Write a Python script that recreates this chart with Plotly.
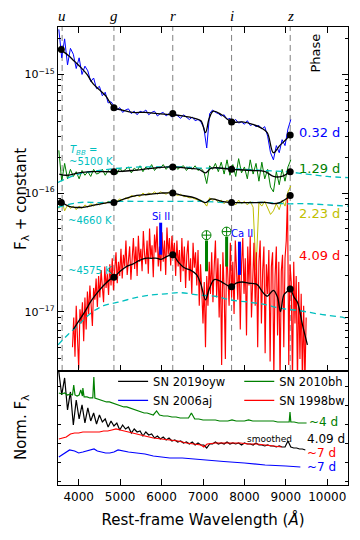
import numpy as np
import plotly.graph_objects as go
from plotly.subplots import make_subplots

# ---------------- top panel: SN 2019oyw, log10 F_lambda ----------------
wave_early = np.arange(3520, 9121, 70)     # grid of the 0.32 / 1.29 / 2.23 d spectra
wave_late = np.arange(3850, 9491, 30)      # grid of the 4.09 d spectrum

raw_032 = [-14.62, -14.86, -14.70, -14.92, -14.78, -14.83, -14.95, -14.86, -15.00, -14.93,
           -14.97, -15.06, -15.03, -15.12, -15.10, -15.18, -15.15, -15.24, -15.23, -15.27,
           -15.30, -15.28, -15.32, -15.30, -15.29, -15.33, -15.31, -15.34, -15.31, -15.32,
           -15.30, -15.34, -15.32, -15.31, -15.35, -15.33, -15.32, -15.35, -15.33, -15.36,
           -15.33, -15.35, -15.37, -15.34, -15.36, -15.38, -15.36, -15.39, -15.38, -15.40,
           -15.45, -15.62, -15.33, -15.30, -15.32, -15.33, -15.35, -15.34, -15.38, -15.37,
           -15.40, -15.38, -15.41, -15.40, -15.42, -15.39, -15.43, -15.42, -15.44, -15.43,
           -15.46, -15.44, -15.52, -15.66, -15.72, -15.60, -15.66, -15.55, -15.60, -15.46,
           -15.38]
raw_129 = [-15.64, -15.90, -15.75, -15.88, -15.80, -15.86, -15.82, -15.88, -15.81, -15.85,
           -15.82, -15.86, -15.80, -15.84, -15.83, -15.80, -15.85, -15.81, -15.83, -15.80,
           -15.84, -15.79, -15.82, -15.80, -15.78, -15.83, -15.79, -15.81, -15.77, -15.82,
           -15.78, -15.80, -15.76, -15.81, -15.78, -15.79, -15.76, -15.80, -15.77, -15.79,
           -15.76, -15.80, -15.78, -15.77, -15.81, -15.78, -15.80, -15.77, -15.81, -15.79,
           -15.82, -15.92, -15.77, -15.80, -15.75, -15.82, -15.74, -15.84, -15.72, -15.85,
           -15.76, -15.86, -15.71, -15.83, -15.78, -15.88, -15.72, -15.84, -15.75, -15.90,
           -15.74, -15.88, -15.80, -15.95, -15.99, -15.82, -15.93, -15.80, -15.90, -15.78,
           -15.72]
raw_223 = [-16.13, -16.06, -16.15, -16.10, -16.13, -16.11, -16.14, -16.11, -16.13, -16.10,
           -16.12, -16.09, -16.11, -16.09, -16.10, -16.08, -16.09, -16.07, -16.08, -16.07,
           -16.07, -16.05, -16.06, -16.04, -16.05, -16.02, -16.03, -16.02, -16.03, -16.00,
           -16.02, -16.00, -16.01, -15.99, -16.01, -15.99, -16.00, -16.01, -15.99, -16.00,
           -16.01, -16.02, -16.01, -16.03, -16.03, -16.04, -16.04, -16.05, -16.06, -16.06,
           -16.08, -16.11, -16.04, -16.06, -16.05, -16.08, -16.06, -16.09, -16.06, -16.09,
           -16.07, -16.10, -16.06, -16.09, -16.07, -16.10, -16.07, -16.12, -16.65, -16.08,
           -16.11, -16.07, -16.13, -16.18, -16.15, -16.09, -16.14, -16.06, -16.11, -15.99,
           -15.94]
raw_409 = [-17.30, -17.05, -17.38, -16.95, -17.22, -17.48, -16.98, -17.10, -16.92, -17.25,
           -16.88, -17.15, -16.83, -17.02, -16.78, -16.99, -17.12, -16.80, -16.90, -16.72,
           -16.96, -16.70, -16.88, -16.65, -16.83, -16.92, -16.62, -16.80, -16.68, -16.86,
           -16.60, -16.78, -16.55, -16.82, -16.64, -16.50, -16.76, -16.58, -16.70, -16.47,
           -16.72, -16.52, -16.62, -16.40, -16.69, -16.55, -16.45, -16.73, -16.50, -16.38,
           -16.64, -16.45, -16.70, -16.36, -16.58, -16.47, -16.66, -16.32, -16.52, -16.60,
           -16.40, -16.68, -16.30, -16.55, -16.44, -16.71, -16.35, -16.50, -16.28, -16.62,
           -16.45, -16.66, -16.33, -16.58, -16.40, -16.69, -16.29, -16.52, -16.38, -16.61,
           -16.36, -16.55, -16.42, -16.70, -16.40, -16.62, -16.48, -16.75, -16.38, -16.66,
           -16.45, -16.80, -16.52, -16.40, -16.74, -16.55, -16.85, -16.42, -16.63, -16.50,
           -16.78, -16.48, -16.95, -16.60, -16.82, -17.10, -16.75, -17.30, -16.70, -16.95,
           -16.58, -16.85, -16.50, -16.92, -16.62, -16.40, -16.88, -16.55, -17.05, -16.60,
           -17.45, -16.50, -16.82, -17.40, -16.45, -16.70, -16.95, -16.42, -16.88, -16.58,
           -17.02, -16.40, -16.72, -16.90, -16.48, -17.15, -16.60, -16.38, -16.85, -16.55,
           -17.20, -16.45, -16.78, -16.36, -17.05, -16.62, -16.42, -16.95, -16.50, -17.30,
           -16.58, -16.40, -17.10, -16.66, -16.45, -17.35, -16.60, -16.85, -16.48, -17.42,
           -16.62, -16.50, -17.55, -16.70, -16.45, -17.20, -16.58, -17.60, -16.66, -16.52,
           -17.30, -16.55, -16.40, -16.02, -17.45, -16.60, -16.75, -17.60, -16.58, -17.10,
           -16.70, -17.60, -16.75, -17.40, -16.85, -17.60, -16.95, -17.60, -17.05]

# smoothed versions (black)
sm_wave_032 = [3530, 3600, 3750, 3900, 4050, 4200, 4350, 4500, 4650, 4850, 5050, 5300, 5600, 5900,
               6270, 6500, 6800, 6950, 7060, 7150, 7250, 7450, 7690, 7950, 8200, 8400, 8550, 8700,
               8850, 9000, 9105]
sm_032 = [-14.78, -14.80, -14.84, -14.89, -14.94, -15.00, -15.08, -15.13, -15.18, -15.28, -15.30,
          -15.32, -15.32, -15.33, -15.34, -15.35, -15.37, -15.39, -15.49, -15.37, -15.31, -15.34,
          -15.40, -15.40, -15.42, -15.45, -15.49, -15.66, -15.60, -15.55, -15.51]
sm_wave_129 = [3530, 3700, 4000, 4300, 4850, 5300, 5800, 6270, 6600, 6900, 7060, 7200, 7690, 8200,
               8500, 8700, 8900, 9105]
sm_129 = [-15.84, -15.85, -15.83, -15.82, -15.82, -15.81, -15.79, -15.78, -15.79, -15.80, -15.83,
          -15.79, -15.80, -15.81, -15.82, -15.86, -15.86, -15.82]
sm_wave_223 = [3530, 3600, 3750, 3900, 4100, 4400, 4700, 4850, 5100, 5400, 5700, 6000, 6270, 6500,
               6800, 7060, 7200, 7450, 7690, 8000, 8300, 8550, 8700, 8850, 9000, 9105]
sm_223 = [-16.06, -16.08, -16.11, -16.12, -16.12, -16.10, -16.08, -16.08, -16.05, -16.02, -16.01,
          -16.00, -16.00, -16.02, -16.04, -16.08, -16.05, -16.07, -16.08, -16.08, -16.08, -16.08,
          -16.09, -16.08, -16.05, -16.02]
sm_wave_409 = [3870, 4000, 4150, 4300, 4450, 4600, 4750, 4850, 5000, 5150, 5300, 5450, 5600, 5750,
               5900, 5980, 6100, 6270, 6400, 6550, 6700, 6850, 6950, 7060, 7150, 7270, 7400, 7500,
               7600, 7690, 7800, 7950, 8100, 8300, 8450, 8550, 8700, 8800, 8870, 8950, 9030, 9105,
               9200, 9280, 9400, 9520]
sm_409 = [-17.15, -17.08, -17.00, -16.91, -16.84, -16.78, -16.73, -16.71, -16.66, -16.62, -16.60,
          -16.57, -16.55, -16.55, -16.55, -16.56, -16.54, -16.52, -16.58, -16.63, -16.65, -16.69,
          -16.77, -16.90, -16.81, -16.73, -16.74, -16.76, -16.78, -16.79, -16.76, -16.75, -16.76,
          -16.77, -16.84, -16.87, -16.82, -16.88, -17.00, -16.86, -16.83, -16.81, -16.88, -16.92,
          -17.11, -17.28]

# synthetic photometry points
phot_wave_032 = [3580, 4850, 6270, 7690, 9105]
phot_032 = [-14.79, -15.28, -15.33, -15.40, -15.51]
phot_wave_129 = [4850, 6270, 7690, 9105]
phot_129 = [-15.82, -15.78, -15.80, -15.82]
phot_wave_223 = [3580, 4850, 6270, 7690, 9105]
phot_223 = [-16.08, -16.08, -16.00, -16.08, -16.02]
phot_wave_409 = [4850, 6270, 7690, 9105]
phot_409 = [-16.71, -16.52, -16.79, -16.81]

# blackbody fits
bb_wave_5100 = [3500, 4000, 4500, 5000, 5500, 6000, 6500, 7000, 7500, 8000, 8500, 9000, 9500, 10000, 10500]
bb_5100 = [-15.91, -15.84, -15.81, -15.79, -15.78, -15.78, -15.78, -15.79, -15.79, -15.80, -15.81,
           -15.82, -15.84, -15.86, -15.87]
bb_wave_4660 = [3500, 4000, 4500, 5000, 5500, 6000, 6500, 7000, 7500, 8000, 8500, 9000, 9500, 10000, 10500]
bb_4660 = [-16.12, -16.08, -16.08, -16.07, -16.07, -16.07, -16.07, -16.07, -16.08, -16.08, -16.08,
           -16.09, -16.09, -16.10, -16.11]
bb_wave_4575 = [3500, 3750, 4000, 4300, 4600, 4950, 5400, 5750, 6100, 6450, 6900, 7300, 7650, 8100,
                8500, 8850, 9300, 9800, 10400, 10500]
bb_4575 = [-17.28, -17.19, -17.11, -17.01, -16.95, -16.92, -16.88, -16.86, -16.85, -16.84, -16.86,
           -16.87, -16.90, -16.92, -16.94, -16.97, -16.99, -17.02, -17.05, -17.06]

filters = ['u', 'g', 'r', 'i', 'z']
filter_wave = [3600, 4850, 6270, 7690, 9105]

# line identifications: wavelength, top / bottom of the marker bar (log10 F)
line_names = ['Si II', 'tell', 'tell', 'Ca II']
line_wave = [5978, 7084, 7570, 7880]
line_top = [-16.25, -16.40, -16.37, -16.41]
line_bot = [-16.52, -16.66, -16.62, -16.69]

# ---------------- bottom panel: comparison, normalised flux + offset ----------------
wave_cmp_oyw = np.arange(3520, 9471, 70)
cmp_oyw = [1.13, 0.90, 1.07, 0.75, 0.93, 0.60, 0.85, 0.66, 0.80, 0.62,
           0.77, 0.64, 0.72, 0.61, 0.70, 0.63, 0.66, 0.58, 0.64, 0.59,
           0.62, 0.55, 0.60, 0.56, 0.58, 0.52, 0.56, 0.53, 0.54, 0.49,
           0.53, 0.50, 0.51, 0.47, 0.49, 0.46, 0.48, 0.45, 0.47, 0.44,
           0.45, 0.43, 0.44, 0.42, 0.43, 0.41, 0.43, 0.40, 0.42, 0.40,
           0.40, 0.37, 0.41, 0.41, 0.43, 0.41, 0.42, 0.41, 0.43, 0.41,
           0.42, 0.41, 0.42, 0.40, 0.42, 0.41, 0.41, 0.40, 0.42, 0.40,
           0.40, 0.39, 0.40, 0.39, 0.39, 0.38, 0.39, 0.38, 0.38, 0.44,
           0.38, 0.37, 0.37, 0.36, 0.36, 0.35]
wave_cmp_10bh = [3520, 3590, 3660, 3730, 3800, 3850, 3880, 3910, 3960, 4010, 4050, 4090, 4100, 4130,
                 4200, 4270, 4340, 4365, 4390, 4460, 4530, 4600, 4670, 4740, 4810, 4880, 4950, 5020,
                 5090, 5160, 5230, 5300, 5370, 5440, 5510, 5580, 5650, 5720, 5800, 5880, 5950, 6050,
                 6150, 6250, 6350, 6450, 6550, 6650, 6720, 6800, 6900, 7000, 7100, 7200, 7300, 7400,
                 7500, 7600, 7700, 7800, 7900, 8000, 8100, 8200, 8300, 8400, 8500, 8600, 8700, 8800,
                 8900, 9000, 9080, 9100, 9120, 9200, 9300, 9400, 9500]
cmp_10bh = [0.92, 0.91, 0.92, 0.90, 0.91, 0.90, 1.00, 0.90, 0.89, 0.90, 0.95, 0.89, 0.97, 0.88,
            0.88, 0.87, 0.87, 1.08, 0.87, 0.86, 0.85, 0.84, 0.83, 0.83, 0.82, 0.81, 0.80, 0.79,
            0.78, 0.78, 0.77, 0.76, 0.75, 0.74, 0.73, 0.72, 0.72, 0.71, 0.70, 0.74, 0.70, 0.69,
            0.69, 0.68, 0.68, 0.67, 0.67, 0.67, 0.72, 0.66, 0.66, 0.65, 0.65, 0.65, 0.65, 0.64,
            0.64, 0.64, 0.65, 0.64, 0.64, 0.64, 0.65, 0.64, 0.64, 0.64, 0.64, 0.64, 0.64, 0.63,
            0.63, 0.63, 0.63, 0.73, 0.63, 0.63, 0.62, 0.62, 0.62]
wave_cmp_98bw = [3520, 3600, 3700, 3800, 3900, 4000, 4100, 4200, 4300, 4400, 4500, 4600, 4700, 4800,
                 4900, 5000, 5100, 5200, 5300, 5400, 5500, 5600, 5800, 6000, 6200, 6400, 6600, 6800,
                 6950, 7020, 7100, 7300, 7500, 7700, 7900, 8100, 8300, 8500, 8700, 8900]
cmp_98bw = [0.46, 0.47, 0.48, 0.51, 0.52, 0.52, 0.53, 0.53, 0.53, 0.53, 0.53, 0.54, 0.54, 0.55,
            0.56, 0.55, 0.54, 0.53, 0.52, 0.51, 0.50, 0.49, 0.47, 0.46, 0.45, 0.44, 0.42, 0.41,
            0.40, 0.38, 0.41, 0.42, 0.42, 0.42, 0.42, 0.41, 0.41, 0.40, 0.39, 0.38]
wave_cmp_06aj = [3520, 3600, 3700, 3780, 3900, 4000, 4100, 4200, 4300, 4370, 4450, 4550, 4650, 4750,
                 4850, 4950, 5050, 5200, 5400, 5600, 5800, 6000, 6200, 6500, 7000, 7500, 8000, 8500,
                 9000, 9350]
cmp_06aj = [0.28, 0.30, 0.33, 0.35, 0.34, 0.32, 0.33, 0.34, 0.35, 0.36, 0.34, 0.33, 0.32, 0.32,
            0.33, 0.35, 0.34, 0.33, 0.32, 0.31, 0.29, 0.28, 0.27, 0.27, 0.25, 0.235, 0.22, 0.20,
            0.19, 0.18]

BLUE, GREEN, YELLOW, RED, CYAN = '#0000ff', '#008000', '#bfbf00', '#ff0000', '#00bfbf'
FONT = 'DejaVu Sans'

fig = make_subplots(rows=2, cols=1, shared_xaxes=True, vertical_spacing=0,
                    row_heights=[0.751, 0.249])

def lg(a):
    return 10 ** np.asarray(a, dtype=float)

for w, f, c, lw in [(wave_early, raw_032, BLUE, 1), (wave_early, raw_129, GREEN, 1),
                    (wave_early, raw_223, YELLOW, 1), (wave_late, raw_409, RED, 1.15)]:
    fig.add_trace(go.Scatter(x=w, y=lg(f), mode='lines', line=dict(color=c, width=lw),
                             showlegend=False, hoverinfo='skip'), row=1, col=1)

for w, f in [(bb_wave_5100, bb_5100), (bb_wave_4660, bb_4660), (bb_wave_4575, bb_4575)]:
    fig.add_trace(go.Scatter(x=w, y=lg(f), mode='lines', line=dict(color=CYAN, width=1.3, dash='6px,4px',
                             shape='spline'), showlegend=False, hoverinfo='skip'), row=1, col=1)

for w, f in [(sm_wave_032, sm_032), (sm_wave_129, sm_129), (sm_wave_223, sm_223), (sm_wave_409, sm_409)]:
    fig.add_trace(go.Scatter(x=w, y=lg(f), mode='lines', line=dict(color='black', width=1.3, shape='spline'),
                             showlegend=False, hoverinfo='skip'), row=1, col=1)

for w, f in [(phot_wave_032, phot_032), (phot_wave_129, phot_129),
             (phot_wave_223, phot_223), (phot_wave_409, phot_409)]:
    fig.add_trace(go.Scatter(x=w, y=lg(f), mode='markers', marker=dict(color='black', size=7),
                             showlegend=False, hoverinfo='skip'), row=1, col=1)

# line id bars
for name, w, t, b in zip(line_names, line_wave, line_top, line_bot):
    col = GREEN if name == 'tell' else BLUE
    fig.add_trace(go.Scatter(x=[w, w], y=lg([t, b]), mode='lines', line=dict(color=col, width=3),
                             showlegend=False, hoverinfo='skip'), row=1, col=1)
    if name == 'tell':
        fig.add_trace(go.Scatter(x=[w], y=lg([t + 0.045]), mode='markers',
                                 marker=dict(symbol='circle-cross-open', size=9, color=GREEN,
                                             line=dict(width=1)),
                                 showlegend=False, hoverinfo='skip'), row=1, col=1)

# bottom panel, two legend columns
for name, w, f, c, leg in [('SN 2019oyw', wave_cmp_oyw, cmp_oyw, 'black', 'legend'),
                           ('SN 2006aj', wave_cmp_06aj, cmp_06aj, BLUE, 'legend'),
                           ('SN 2010bh', wave_cmp_10bh, cmp_10bh, GREEN, 'legend2'),
                           ('SN 1998bw', wave_cmp_98bw, cmp_98bw, RED, 'legend2')]:
    fig.add_trace(go.Scatter(x=w, y=f, mode='lines', name=name, line=dict(color=c, width=1.2),
                             legend=leg, hoverinfo='skip'), row=2, col=1)

# filter positions
for w in filter_wave:
    fig.add_shape(type='line', x0=w, x1=w, y0=0, y1=1, xref='x', yref='y domain',
                  line=dict(color='#808080', width=1, dash='6px,4px'), layer='below')

ann = []
for f, w in zip(filters, filter_wave):
    ann.append(dict(x=w, y=1, xref='x', yref='paper', yanchor='bottom', yshift=1, text=f'<i>{f}</i>',
                    showarrow=False, font=dict(family='Liberation Serif', size=15, color='black')))

def top_text(x, y, text, color, size=13, xanchor='left', angle=0):
    ann.append(dict(x=x, y=y, xref='x', yref='y', text=text, showarrow=False, xanchor=xanchor,
                    textangle=angle, font=dict(family=FONT, size=size, color=color)))

top_text(9280, -15.49, '0.32 d', BLUE)
top_text(9280, -15.79, '1.29 d', GREEN)
top_text(9280, -16.17, '2.23 d', YELLOW)
top_text(9280, -16.53, '4.09 d', RED)
top_text(9713, -14.82, 'Phase', 'black', angle=-90, xanchor='center')
top_text(3740, -15.64, '<i>T<sub>BB</sub></i> =', CYAN, size=10)
top_text(3720, -15.73, '~5100 K', CYAN, size=10)
top_text(3690, -16.23, '~4660 K', CYAN, size=10)
top_text(3690, -16.65, '~4575 K', CYAN, size=10)
top_text(5978, -16.20, 'Si II', BLUE, size=10, xanchor='center')
top_text(7950, -16.34, 'Ca II', BLUE, size=10, xanchor='center')

def bot_text(x, y, text, color, size=12, xanchor='left'):
    ann.append(dict(x=x, y=y, xref='x2', yref='y2', text=text, showarrow=False, xanchor=xanchor,
                    font=dict(family=FONT, size=size, color=color)))

bot_text(9500, 0.63, '~4 d', GREEN)
bot_text(8600, 0.46, 'smoothed', 'black', size=9, xanchor='center')
bot_text(9450, 0.46, '4.09 d', 'black')
bot_text(9450, 0.32, '~7 d', RED)
bot_text(9450, 0.18, '~7 d', BLUE)

# y-axis titles as rotated annotations (closer to the ticks than a standoff allows)
for text, yc in [('F<sub>λ</sub> + constant', 0.6245), ('Norm. F<sub>λ</sub>', 0.1245)]:
    ann.append(dict(x=0, y=yc, xref='paper', yref='paper', xshift=-36, text=text, textangle=-90,
                    showarrow=False, xanchor='center', yanchor='middle',
                    font=dict(family=FONT, size=15, color='black')))

minor_log = [k * 10.0 ** e for e in (-18, -17, -16, -15) for k in range(2, 10)]

leg_style = dict(xanchor='left', yanchor='top', orientation='v', bgcolor='rgba(0,0,0,0)',
                 font=dict(size=11.5), tracegroupgap=0, itemwidth=30)
# the page body adds an 8px offset, so the margins are shifted by that amount
fig.update_layout(
    width=360, height=540, margin=dict(l=50, r=20, t=19, b=63),
    paper_bgcolor='white', plot_bgcolor='white',
    font=dict(family=FONT, size=12, color='black'),
    annotations=ann,
    legend=dict(x=0.19, y=0.258, **leg_style),
    legend2=dict(x=0.625, y=0.258, **leg_style),
)

axis_common = dict(showline=True, linecolor='black', linewidth=1.3, ticks='inside', tickcolor='black',
                   showgrid=False, zeroline=False, automargin=False)
fig.update_xaxes(range=[3500, 10500], dtick=1000, tick0=0, ticklen=6, tickformat='d', **axis_common)
fig.update_xaxes(mirror='ticks', showticklabels=False, row=1, col=1)
fig.update_xaxes(mirror=True, tickfont=dict(size=12),
                 title=dict(text='Rest-frame Wavelength (<i>Å</i>)', font=dict(size=15), standoff=11),
                 row=2, col=1)
fig.update_yaxes(type='log', range=[-17.5, -14.6], mirror='ticks', ticklen=6,
                 tickvals=[1e-17, 1e-16, 1e-15],
                 ticktext=['10<sup>−17</sup>', '10<sup>−16</sup>', '10<sup>−15</sup>'],
                 tickfont=dict(size=11),
                 minor=dict(tickvals=minor_log, ticks='inside', ticklen=3, tickcolor='black'),
                 row=1, col=1, **axis_common)
fig.update_yaxes(range=[0, 1.14], mirror='ticks', showticklabels=False, tick0=0.03, dtick=0.19,
                 ticklen=3, row=2, col=1, **axis_common)

fig.write_html("out.html")
